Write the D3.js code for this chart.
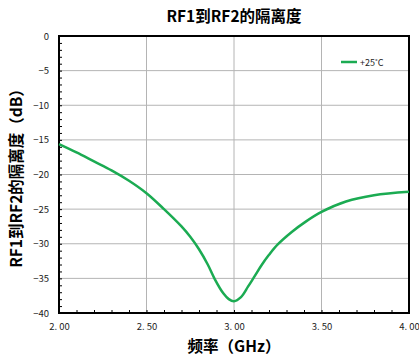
<!DOCTYPE html>
<html>
<head>
<meta charset="utf-8">
<script src="https://cdn.jsdelivr.net/npm/d3@7"></script>
<style>
  body { margin: 0; background: #fff; }
  svg { display: block; }
</style>
</head>
<body>
<div id="container"></div>
<script>
// readings
const freqGHz = [2.0, 2.1, 2.2, 2.3, 2.4, 2.5, 2.6, 2.7, 2.75, 2.8, 2.85, 2.89, 2.94, 2.97, 3.0, 3.04, 3.08, 3.12, 3.16, 3.2, 3.25, 3.33, 3.41, 3.5, 3.64, 3.8, 4.0];
const isolation = [-15.6, -16.8, -18.1, -19.4, -20.9, -22.7, -25.0, -27.5, -29.0, -30.8, -33.0, -35.1, -37.2, -38.0, -38.3, -37.7, -36.2, -34.6, -33.0, -31.6, -30.1, -28.3, -26.8, -25.4, -23.9, -23.0, -22.5];
const xTicks = [2.0, 2.5, 3.0, 3.5, 4.0];
const xTickLabels = ["2. 00", "2. 50", "3. 00", "3. 50", "4. 00"];
const yTicks = [0, -5, -10, -15, -20, -25, -30, -35, -40];
const seriesName = "+25˚C";

const width = 419, height = 361;
const plotLeft = 59, plotRight = 409, plotTop = 36, plotBottom = 313;
const green = "#1bab52";
const font = "'Noto Sans CJK SC', 'Noto Sans', sans-serif";

let svg = d3.select("#container").append("svg")
  .attr("width", width)
  .attr("height", height);

let x = d3.scaleLinear().domain([2, 4]).range([plotLeft, plotRight]);
let y = d3.scaleLinear().domain([0, -40]).range([plotTop, plotBottom]);

// grid
svg.append("g")
  .selectAll("line")
  .data(xTicks.slice(1, -1))
  .join("line")
  .attr("x1", (d) => x(d)).attr("x2", (d) => x(d))
  .attr("y1", plotTop).attr("y2", plotBottom)
  .attr("stroke", "#b4b4b4").attr("stroke-width", 1);

svg.append("g")
  .selectAll("line")
  .data(yTicks.slice(1, -1))
  .join("line")
  .attr("x1", plotLeft).attr("x2", plotRight)
  .attr("y1", (d) => y(d)).attr("y2", (d) => y(d))
  .attr("stroke", "#b4b4b4").attr("stroke-width", 1);

// minor ticks, pointing inward
svg.append("g")
  .attr("transform", `translate(${plotLeft},0)`)
  .call(d3.axisRight(y).ticks(40).tickSize(3).tickFormat(""))
  .call((g) => g.select(".domain").remove())
  .call((g) => g.selectAll("line").attr("stroke", "#000"));

svg.append("g")
  .attr("transform", `translate(0,${plotBottom})`)
  .call(d3.axisTop(x).ticks(20).tickSize(3).tickFormat(""))
  .call((g) => g.select(".domain").remove())
  .call((g) => g.selectAll("line").attr("stroke", "#000"));

// tick labels
svg.append("g")
  .attr("transform", `translate(${plotLeft - 7},0)`)
  .call(d3.axisLeft(y).tickValues(yTicks).tickSize(0).tickFormat((d) => d3.format("")(d).replace("-", "−")))
  .call((g) => g.select(".domain").remove())
  .call((g) => g.selectAll("text").attr("font-family", font).attr("font-size", 9.5).attr("fill", "#222"));

svg.append("g")
  .attr("transform", `translate(0,${plotBottom + 7})`)
  .call(d3.axisBottom(x).tickValues(xTicks).tickSize(0).tickFormat((d, i) => xTickLabels[i]))
  .call((g) => g.select(".domain").remove())
  .call((g) => g.selectAll("text").attr("font-family", font).attr("font-size", 9.5).attr("fill", "#222"));

// frame
svg.append("rect")
  .attr("x", plotLeft).attr("y", plotTop)
  .attr("width", plotRight - plotLeft).attr("height", plotBottom - plotTop)
  .attr("fill", "none").attr("stroke", "#000").attr("stroke-width", 2);

// curve
let line = d3.line()
  .x((d, i) => x(freqGHz[i]))
  .y((d) => y(d))
  .curve(d3.curveCatmullRom.alpha(0.5));

svg.append("path")
  .datum(isolation)
  .attr("d", line)
  .attr("fill", "none")
  .attr("stroke", green)
  .attr("stroke-width", 2.5);

// legend
svg.append("line")
  .attr("x1", 341).attr("x2", 357)
  .attr("y1", 62).attr("y2", 62)
  .attr("stroke", green).attr("stroke-width", 2.5);
svg.append("text")
  .attr("x", 360).attr("y", 65.5)
  .attr("font-family", font).attr("font-size", 9).attr("fill", "#222")
  .text(seriesName);

// titles
svg.append("text")
  .attr("x", (plotLeft + plotRight) / 2).attr("y", 22)
  .attr("text-anchor", "middle")
  .attr("font-family", font).attr("font-size", 15.5).attr("font-weight", "bold")
  .text("RF1到RF2的隔离度");

svg.append("text")
  .attr("x", (plotLeft + plotRight) / 2).attr("y", 352)
  .attr("text-anchor", "middle")
  .attr("font-family", font).attr("font-size", 15.5).attr("font-weight", "bold")
  .text("频率（GHz）");

svg.append("text")
  .attr("transform", `translate(22,${(plotTop + plotBottom) / 2}) rotate(-90)`)
  .attr("text-anchor", "middle")
  .attr("font-family", font).attr("font-size", 15.5).attr("font-weight", "bold")
  .text("RF1到RF2的隔离度（dB）");
</script>
</body>
</html>
